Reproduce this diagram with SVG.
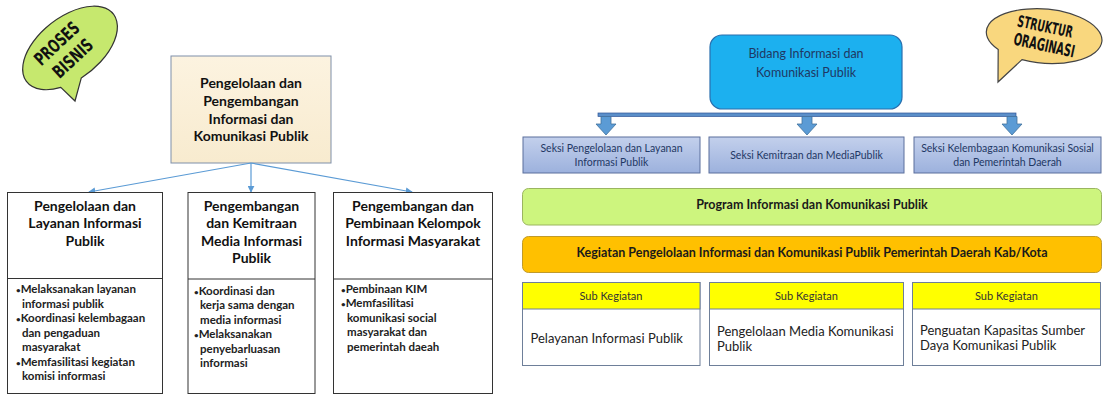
<svg xmlns="http://www.w3.org/2000/svg" width="1108" height="394" viewBox="0 0 1108 394">
<defs>
<style>
.t{font-family:Lato,"Liberation Sans",sans-serif;}
.b{font-weight:bold;}
.title{font-family:Lato,"Liberation Sans",sans-serif;font-weight:bold;font-size:14px;fill:#111;text-anchor:middle;}
.bul{font-family:Lato,"Liberation Sans",sans-serif;font-weight:bold;font-size:11.5px;fill:#222;}
.box{fill:#fff;stroke:#333;stroke-width:1;}
.seksi{fill:url(#gs);stroke:#5b6f9c;stroke-width:1;}
.stxt{font-family:Lato,"Liberation Sans",sans-serif;font-size:10.5px;fill:#1f3864;text-anchor:middle;}
.sub{fill:#fff;stroke:#6e7f99;stroke-width:1;}
.subh{fill:#ffff00;stroke:#6e7f99;stroke-width:1;}
.subt{font-family:Lato,"Liberation Sans",sans-serif;font-size:11px;fill:#333;text-anchor:middle;}
.body{font-family:Lato,"Liberation Sans",sans-serif;font-size:13px;fill:#222;}
.bub{font-family:"DejaVu Sans Condensed","DejaVu Sans",sans-serif;font-weight:bold;fill:#111;text-anchor:middle;}
.conn{stroke:#5b9bd5;stroke-width:1.2;fill:none;}
.blk{fill:#5b9bd5;stroke:#41719c;stroke-width:0.8;}
.dot{font-size:8px;}
</style>
<linearGradient id="gs" x1="0" y1="0" x2="0" y2="1">
<stop offset="0" stop-color="#c3d0ec"/>
<stop offset="1" stop-color="#9cb1dd"/>
</linearGradient>
<linearGradient id="gb" x1="0" y1="0" x2="0" y2="1">
<stop offset="0" stop-color="#fcf3e0"/>
<stop offset="1" stop-color="#f8ebcf"/>
</linearGradient>
<marker id="ah" viewBox="0 0 10 10" refX="9" refY="5" markerWidth="7" markerHeight="7" orient="auto" markerUnits="userSpaceOnUse">
<path d="M0,0 L10,5 L0,10 Z" fill="#5b9bd5"/>
</marker>
</defs>
<rect x="0" y="0" width="1108" height="394" fill="#fff"/>

<!-- bubble PROSES BISNIS -->
<g id="bubble-proses">
<path d="M81.3,77.9 A55,31 -38 1 0 60.8,87.4 L75,101 Z" fill="#c6e86e" stroke="#333" stroke-width="1.2"/>
<text class="bub" font-size="18" transform="translate(61,48) rotate(-43)" textLength="54" lengthAdjust="spacingAndGlyphs">PROSES</text>
<text class="bub" font-size="18" transform="translate(77,63) rotate(-43)" textLength="48" lengthAdjust="spacingAndGlyphs">BISNIS</text>
</g>

<!-- bubble STRUKTUR ORAGINASI -->
<g id="bubble-struktur">
<path d="M1022,59.6 A58,27 5 1 0 998.2,49.4 L998,82 Z" fill="#f9d77e" stroke="#444" stroke-width="1.2"/>
<text class="bub" font-size="16" transform="translate(1044,32) rotate(12)" textLength="56" lengthAdjust="spacingAndGlyphs">STRUKTUR</text>
<text class="bub" font-size="17" transform="translate(1043,51) rotate(12)" textLength="62" lengthAdjust="spacingAndGlyphs">ORAGINASI</text>
</g>

<!-- left top node -->
<g id="n-top">
<rect x="171" y="56" width="160" height="107" fill="url(#gb)" stroke="#7f8fa9" stroke-width="1"/>
<text class="title" x="251" y="88">Pengelolaan dan</text>
<text class="title" x="251" y="106">Pengembangan</text>
<text class="title" x="251" y="124">Informasi dan</text>
<text class="title" x="251" y="141">Komunikasi Publik</text>
</g>

<!-- left connectors -->
<g id="connectors-left">
<line class="conn" x1="251" y1="163" x2="89" y2="192" marker-end="url(#ah)"/>
<line class="conn" x1="251" y1="163" x2="251" y2="192" marker-end="url(#ah)"/>
<line class="conn" x1="251" y1="163" x2="412" y2="192" marker-end="url(#ah)"/>
</g>

<g id="n-layanan">
<rect class="box" x="7.5" y="192.5" width="155" height="201"/>
<line x1="7.5" y1="278.5" x2="162.5" y2="278.5" stroke="#333" stroke-width="1"/>
<text class="title" x="85" y="211">Pengelolaan dan</text>
<text class="title" x="85" y="228">Layanan Informasi</text>
<text class="title" x="85" y="246">Publik</text>
<text class="bul" x="16" y="293"><tspan class="dot">•</tspan>Melaksanakan layanan</text>
<text class="bul" x="22" y="307.5">informasi publik</text>
<text class="bul" x="16" y="322"><tspan class="dot">•</tspan>Koordinasi kelembagaan</text>
<text class="bul" x="22" y="336.5">dan pengaduan</text>
<text class="bul" x="22" y="351">masyarakat</text>
<text class="bul" x="16" y="365.5"><tspan class="dot">•</tspan>Memfasilitasi kegiatan</text>
<text class="bul" x="22" y="380">komisi informasi</text>
</g>

<g id="n-kemitraan">
<rect class="box" x="188" y="192.5" width="127" height="201"/>
<line x1="188" y1="279" x2="315" y2="279" stroke="#333" stroke-width="1"/>
<text class="title" x="251.5" y="211">Pengembangan</text>
<text class="title" x="251.5" y="228">dan Kemitraan</text>
<text class="title" x="251.5" y="245.5">Media Informasi</text>
<text class="title" x="251.5" y="263">Publik</text>
<text class="bul" x="194" y="294.5"><tspan class="dot">•</tspan>Koordinasi dan</text>
<text class="bul" x="200" y="309">kerja sama dengan</text>
<text class="bul" x="200" y="323.5">media informasi</text>
<text class="bul" x="194" y="338"><tspan class="dot">•</tspan>Melaksanakan</text>
<text class="bul" x="200" y="352.5">penyebarluasan</text>
<text class="bul" x="200" y="367">informasi</text>
</g>

<g id="n-kelompok">
<rect class="box" x="333.5" y="192.5" width="159" height="201"/>
<line x1="333.5" y1="279" x2="492.5" y2="279" stroke="#333" stroke-width="1"/>
<text class="title" x="413" y="211">Pengembangan dan</text>
<text class="title" x="413" y="228">Pembinaan Kelompok</text>
<text class="title" x="413" y="246">Informasi Masyarakat</text>
<text class="bul" x="341" y="292.5"><tspan class="dot">•</tspan>Pembinaan KIM</text>
<text class="bul" x="341" y="307"><tspan class="dot">•</tspan>Memfasilitasi</text>
<text class="bul" x="347" y="321.5">komunikasi social</text>
<text class="bul" x="347" y="336">masyarakat dan</text>
<text class="bul" x="347" y="350.5">pemerintah daeah</text>
</g>

<!-- right side -->
<g id="n-bidang">
<rect x="710" y="35" width="192" height="74" rx="12" fill="#1cb0ef" stroke="#2a6fae" stroke-width="1.2"/>
<text class="t" x="806" y="58" font-size="12.5" fill="#1f3864" text-anchor="middle">Bidang Informasi dan</text>
<text class="t" x="806" y="77" font-size="12.5" fill="#1f3864" text-anchor="middle">Komunikasi Publik</text>
</g>

<g id="connectors-right">
<rect x="598" y="113" width="418" height="3.5" fill="#5b8fc9" stroke="#2f5597" stroke-width="0.7"/>
<path class="blk" d="M601,116.5 L611,116.5 L611,124 L616,124 L606,135 L596,124 L601,124 Z"/>
<path class="blk" d="M802,116.5 L812,116.5 L812,124 L817,124 L807,135 L797,124 L802,124 Z"/>
<path class="blk" d="M1007,116.5 L1017,116.5 L1017,124 L1022,124 L1012,135 L1002,124 L1007,124 Z"/>
</g>

<g id="n-seksi1">
<rect class="seksi" x="523" y="137" width="177" height="36"/>
<text class="stxt" x="611.5" y="151.5">Seksi Pengelolaan dan Layanan</text>
<text class="stxt" x="611.5" y="165.5">Informasi Publik</text>
</g>
<g id="n-seksi2">
<rect class="seksi" x="709" y="137" width="195" height="36"/>
<text class="stxt" x="806.5" y="158.5">Seksi Kemitraan dan MediaPublik</text>
</g>
<g id="n-seksi3">
<rect class="seksi" x="914" y="137" width="187" height="36"/>
<text class="stxt" x="1007.5" y="151.5">Seksi Kelembagaan Komunikasi Sosial</text>
<text class="stxt" x="1007.5" y="165.5">dan Pemerintah Daerah</text>
</g>

<g id="n-program">
<rect x="522.5" y="188.5" width="579" height="36.5" rx="6" fill="#cdf57e" stroke="#9bb560" stroke-width="1"/>
<text class="t b" x="812" y="208.5" font-size="12.5" fill="#1a1a1a" text-anchor="middle">Program Informasi dan Komunikasi Publik</text>
</g>

<g id="n-kegiatan">
<rect x="522.5" y="236.5" width="579" height="36" rx="6" fill="#ffc000" stroke="#c09a2a" stroke-width="1"/>
<text class="t b" x="812" y="256.5" font-size="12.5" fill="#1a1a1a" text-anchor="middle">Kegiatan Pengelolaan Informasi dan Komunikasi Publik Pemerintah Daerah Kab/Kota</text>
</g>

<g id="n-sub1">
<rect class="sub" x="522.5" y="282.5" width="177.5" height="83"/>
<rect class="subh" x="522.5" y="282.5" width="177.5" height="26.5"/>
<text class="subt" x="611" y="299.5">Sub Kegiatan</text>
<text class="body" x="530.5" y="342.5">Pelayanan Informasi Publik</text>
</g>
<g id="n-sub2">
<rect class="sub" x="709.5" y="282.5" width="194" height="83"/>
<rect class="subh" x="709.5" y="282.5" width="194" height="26.5"/>
<text class="subt" x="806.5" y="299.5">Sub Kegiatan</text>
<text class="body" x="717" y="335.5">Pengelolaan Media Komunikasi</text>
<text class="body" x="717" y="350.5">Publik</text>
</g>
<g id="n-sub3">
<rect class="sub" x="912.5" y="282.5" width="188" height="83"/>
<rect class="subh" x="912.5" y="282.5" width="188" height="26.5"/>
<text class="subt" x="1006.5" y="299.5">Sub Kegiatan</text>
<text class="body" x="920" y="334.5">Penguatan Kapasitas Sumber</text>
<text class="body" x="920" y="349.5">Daya Komunikasi Publik</text>
</g>
</svg>
